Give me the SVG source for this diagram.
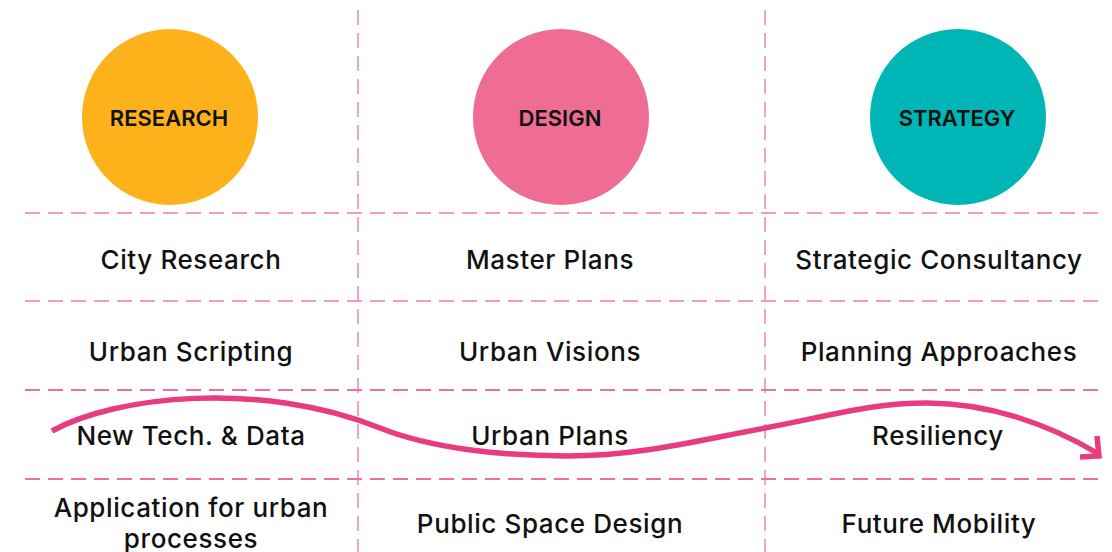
<svg xmlns="http://www.w3.org/2000/svg" width="1112" height="552" viewBox="0 0 1112 552">
<style>
.vline{stroke:#F5A3C4;stroke-width:2;stroke-dasharray:15 8;fill:none}
.hline{stroke:#F39BBF;stroke-width:2;stroke-dasharray:15 8;fill:none}
.hline2{stroke:#EE6FA2;stroke-width:2;stroke-dasharray:15 8;fill:none}
.lbl{font-family:Inter,"Noto Sans",sans-serif;font-size:22px;font-weight:600;fill:#111;text-anchor:middle}
.cell{font-family:Inter,"Noto Sans",sans-serif;font-size:26px;font-weight:500;letter-spacing:0.6px;fill:#111;text-anchor:middle}
.flow{stroke:#E83C80;stroke-width:5.5;fill:none;stroke-linecap:butt;stroke-linejoin:miter}
</style>
<rect width="1112" height="552" fill="#fff"/>
<g id="grid">
<line class="vline" x1="358" y1="10" x2="358" y2="552"/>
<line class="vline" x1="765" y1="10" x2="765" y2="552"/>
<line class="hline" x1="25" y1="213" x2="1105" y2="213"/>
<line class="hline" x1="25" y1="301" x2="1105" y2="301"/>
<line class="hline2" x1="25" y1="390" x2="1105" y2="390"/>
<line class="hline2" x1="25" y1="479" x2="1105" y2="479"/>
</g>
<g id="research">
<circle cx="170" cy="117" r="88" fill="#FDB21C"/>
<text class="lbl" x="169" y="126">RESEARCH</text>
</g>
<g id="design">
<circle cx="561" cy="117" r="88" fill="#EF6C94"/>
<text class="lbl" x="560" y="126">DESIGN</text>
</g>
<g id="strategy">
<circle cx="958" cy="117" r="88" fill="#00B5B5"/>
<text class="lbl" x="957" y="126">STRATEGY</text>
</g>
<g id="city-research"><text class="cell" x="191" y="269">City Research</text></g>
<g id="master-plans"><text class="cell" x="550" y="269">Master Plans</text></g>
<g id="strategic-consultancy"><text class="cell" x="939" y="269">Strategic Consultancy</text></g>
<g id="urban-scripting"><text class="cell" x="191" y="361">Urban Scripting</text></g>
<g id="urban-visions"><text class="cell" x="550" y="361">Urban Visions</text></g>
<g id="planning-approaches"><text class="cell" x="939" y="361">Planning Approaches</text></g>
<g id="new-tech"><text class="cell" x="191" y="445">New Tech. &amp; Data</text></g>
<g id="urban-plans"><text class="cell" x="550" y="445">Urban Plans</text></g>
<g id="resiliency"><text class="cell" x="938" y="445">Resiliency</text></g>
<g id="application"><text class="cell" x="191" y="517">Application for urban</text><text class="cell" x="191" y="548">processes</text></g>
<g id="public-space"><text class="cell" x="550" y="533">Public Space Design</text></g>
<g id="future-mobility"><text class="cell" x="939" y="533">Future Mobility</text></g>
<g id="connectors">
<path class="flow" d="M52,431 C115,396 260,380 380,428 C430,448 500,456 567,456 C640,456 700,440 765,428 C830,416 870,403 927,403 C990,403 1050,425 1097,453"/>
<path class="flow" d="M1097,436 L1099,456 L1080,457"/>
</g>
</svg>
